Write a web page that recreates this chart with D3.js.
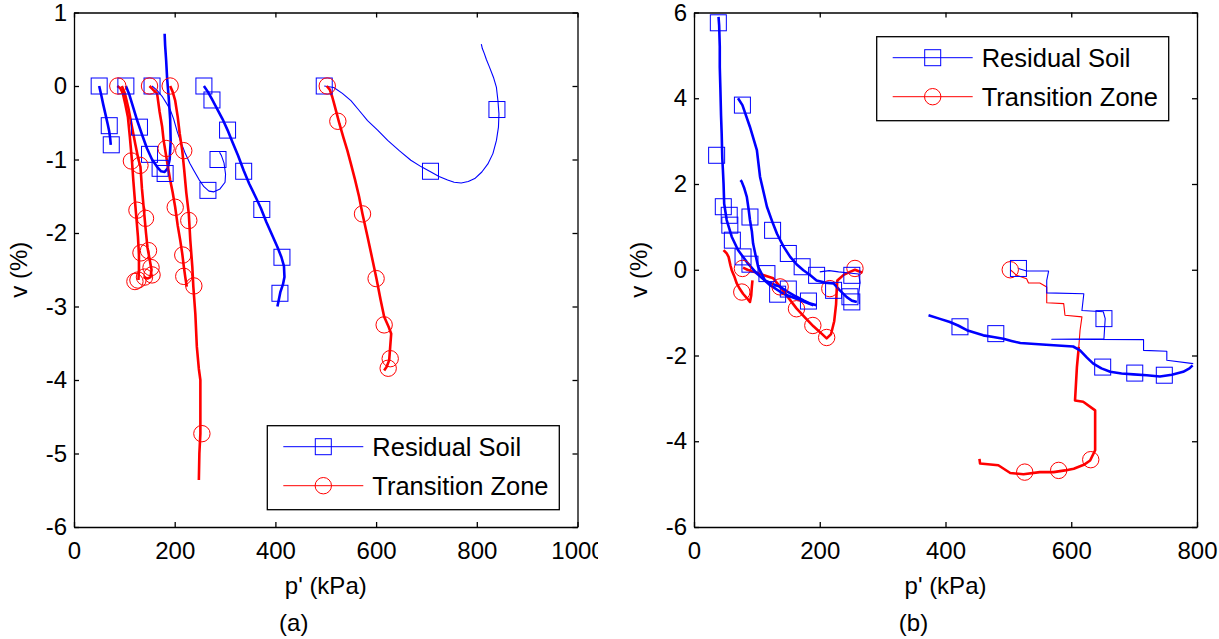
<!DOCTYPE html>
<html>
<head>
<meta charset="utf-8">
<script src="https://cdn.jsdelivr.net/npm/d3@7"></script>
<style>
  body { margin: 0; background: #fff; }
  text { font-family: "Liberation Sans", Arial, sans-serif; fill: #000; }
</style>
</head>
<body>
<svg id="chart" width="1219" height="639"></svg>
<script>
// ---- panel (a) : Residual Soil (blue) ----
const aB1 = [[50,0],[54,-0.12],[58,-0.25],[63,-0.4],[67,-0.52],[70,-0.62],[72,-0.72],[73,-0.8]]
const aB1Marks = [[50,0],[70,-0.54],[74,-0.8]]
const aB2 = [[103,0],[110,-0.12],[118,-0.3],[126,-0.48],[135,-0.66],[145,-0.85],[155,-1.0],[165,-1.1],[173,-1.16],[180,-1.17],[186,-1.12],[190,-1.0],[192,-0.75],[191,-0.45],[188,-0.15],[185,0.1],[183,0.35],[181,0.55],[180,0.71]]
const aB2Marks = [[103,0],[130,-0.56],[150,-0.93],[171,-1.12],[181,-1.19]]
const aB3 = [[155,0],[165,-0.06],[175,-0.14],[185,-0.25],[191,-0.32],[198,-0.45],[205,-0.62],[211,-0.74],[220,-0.9],[230,-1.05],[238,-1.15],[248,-1.27],[258,-1.37],[268,-1.43],[278,-1.44],[290,-1.4],[300,-1.31],[301,-1.2],[298,-1.05],[293,-0.95],[289,-0.9]]
const aB3Marks = [[155,0],[266,-1.42],[286,-1.0]]
const aB4 = [[258,0],[266,-0.08],[274,-0.18],[285,-0.32],[295,-0.45],[305,-0.6],[315,-0.77],[326,-0.95],[337,-1.15],[348,-1.33],[360,-1.5],[371,-1.66],[382,-1.85],[393,-2.02],[404,-2.19],[412,-2.33],[417,-2.45],[418,-2.6],[415,-2.7],[410,-2.8],[407,-2.9],[404,-3.0]]
const aB4Marks = [[258,0],[274,-0.19],[305,-0.6],[337,-1.16],[373,-1.68],[413,-2.33],[409,-2.82]]
const aB5 = [[497,0],[516,-0.02],[533,-0.1],[550,-0.2],[566,-0.33],[583,-0.47],[603,-0.6],[623,-0.74],[646,-0.88],[669,-1.01],[690,-1.1],[709,-1.17],[725,-1.23],[742,-1.28],[755,-1.31],[769,-1.32],[783,-1.3],[796,-1.26],[810,-1.17],[822,-1.06],[832,-0.92],[839,-0.74],[843,-0.56],[844,-0.38],[842,-0.2],[839,-0.02],[833,0.12],[825,0.26],[819,0.36],[815,0.44],[811,0.51],[809,0.57]]
const aB5Marks = [[497,0],[708,-1.16],[840,-0.32]]

// ---- panel (a) : Transition Zone (red) ----
const aR1 = [[86,0],[92,-0.03],[97,-0.1],[102,-0.25],[107,-0.42],[111,-0.7],[115,-1.01],[118,-1.3],[121,-1.56],[124,-1.8],[127,-2.05],[129,-2.3],[129,-2.5],[128,-2.64]]
const aR1Marks = [[87,0],[114,-1.02],[125,-1.69],[133,-2.27],[127,-2.64],[121,-2.66]]
const aR2 = [[95,0],[101,-0.1],[108,-0.3],[115,-0.55],[122,-0.8],[128,-1.0],[132,-1.1],[135,-1.4],[139,-1.7],[143,-2.0],[146,-2.2],[150,-2.35],[154,-2.5],[152,-2.6],[146,-2.62],[138,-2.6]]
const aR2Marks = [[131,-1.08],[142,-1.8],[148,-2.24],[153,-2.47],[155,-2.57],[140,-2.6]]
const aR3 = [[150,0],[157,-0.05],[165,-0.1],[170,-0.35],[175,-0.55],[178,-0.74],[183,-0.95],[187,-1.12],[191,-1.28],[196,-1.45],[201,-1.65],[206,-1.9],[211,-2.1],[215,-2.28],[218,-2.45],[221,-2.6],[224,-2.73]]
const aR3Marks = [[150,0],[183,-0.85],[201,-1.65],[216,-2.3],[218,-2.59]]
const aR4 = [[191,0],[196,-0.08],[201,-0.2],[206,-0.42],[210,-0.65],[215,-0.88],[219,-1.15],[223,-1.45],[228,-1.74],[231,-2.1],[235,-2.46],[237,-2.73],[241,-3.1],[244,-3.55],[248,-3.85],[251,-4.0],[251,-4.4],[251,-4.73],[249,-5.0],[248,-5.36]]
const aR4Marks = [[191,0],[218,-0.88],[228,-1.83],[238,-2.72],[254,-4.73]]
const aR5 = [[502,0],[508,-0.05],[513,-0.15],[517,-0.25],[522,-0.38],[527,-0.51],[535,-0.7],[543,-0.88],[550,-1.06],[558,-1.27],[566,-1.5],[573,-1.74],[583,-2.05],[593,-2.37],[601,-2.63],[609,-2.91],[616,-3.14],[625,-3.28],[630,-3.37],[628,-3.55],[626,-3.73],[621,-3.82],[616,-3.87]]
const aR5Marks = [[503,0],[524,-0.48],[573,-1.74],[600,-2.62],[616,-3.25],[628,-3.71],[624,-3.84]]

// ---- panel (b) : Residual Soil (blue) ----
const bB1 = [[39,5.9],[40,5.7],[41,5.2],[41,4.73],[42,4.2],[43,3.6],[44,3.18],[45,2.6],[46,2.32],[47,2.01],[48,1.54],[52,1.16],[60,0.77],[70,0.46],[84,0.18],[100,-0.09],[121,-0.36],[142,-0.56],[169,-0.71],[190,-0.83]]
const bB1Marks = [[38.7,5.76],[36,2.67],[46.6,1.47],[56,1.27],[57,1.04],[61,0.69],[78,0.3],[89,0.13],[116,-0.09],[133,-0.57],[182,-0.73]]
const bB2 = [[70,4.0],[77,3.84],[89,3.33],[100,2.79],[105,2.17],[116,1.47],[125,1.1],[132,0.84],[142,0.55],[153,0.3],[163,0.13],[174,-0.01],[185,-0.13],[195,-0.25],[208,-0.3],[222,-0.32],[232,-0.48],[243,-0.64],[251,-0.72],[259,-0.75]]
const bB2Marks = [[77,3.84],[125,0.92],[150,0.38],[172,0.07],[195,-0.13],[222,-0.48],[251,-0.75]]
const bB3 = [[74,2.09],[76,2.05],[80,1.9],[84,1.7],[87,1.4],[89,1.16],[92,0.9],[94,0.61],[98,0.33],[102,0.07],[113,-0.25],[125,-0.33],[137,-0.4],[150,-0.52],[163,-0.63],[175,-0.72],[185,-0.79],[195,-0.83]]
const bB3Marks = [[89,1.23],[150,-0.45]]
const bB4 = [[200,-0.05],[215,-0.02],[230,-0.05],[250,-0.08],[262,-0.1],[264,-0.3],[262,-0.55],[263,-0.8]]
const bB4Marks = [[251,-0.13],[248,-0.63]]
const bB5 = [[516,0.03],[529,-0.03],[564,-0.03],[561,-0.25],[561,-0.54],[620,-0.56],[617,-0.95],[651,-0.98],[654,-1.14],[652,-1.61],[569,-1.62],[715,-1.63],[715,-1.88],[752,-1.9],[752,-2.11],[794,-2.19]]
const bB5Marks = [[516,0.03],[652,-1.14]]
const bB6 = [[373,-1.06],[390,-1.14],[407,-1.22],[420,-1.3],[434,-1.41],[447,-1.47],[460,-1.53],[476,-1.57],[492,-1.61],[505,-1.66],[519,-1.71],[560,-1.75],[603,-1.79],[614,-1.88],[625,-2.05],[635,-2.19],[648,-2.3],[662,-2.38],[680,-2.42],[699,-2.44],[720,-2.46],[741,-2.49],[760,-2.45],[778,-2.38],[788,-2.3],[793,-2.23]]
const bB6Marks = [[423,-1.33],[480,-1.49],[650,-2.27],[701,-2.41],[748,-2.46]]

// ---- panel (b) : Transition Zone (red) ----
const bR1 = [[47,0.46],[52,0.38],[55,0.3],[58,0.1],[60,-0.01],[64,-0.15],[68,-0.32],[73,-0.45],[78,-0.56],[84,-0.66],[89,-0.75],[91,-0.6],[92,-0.4],[93,-0.25]]
const bR1Marks = [[77,0.03],[76,-0.52]]
const bR2 = [[78,0.05],[85,0.0],[95,-0.05],[110,-0.12],[126,-0.2],[137,-0.4],[150,-0.65],[163,-0.9],[177,-1.12],[190,-1.32],[200,-1.45],[211,-1.6],[218,-1.5],[223,-1.2],[226,-0.8],[227,-0.45],[228,-0.25],[238,-0.12],[248,-0.05],[256,0],[268,-0.07]]
const bR2Marks = [[137,-0.4],[163,-0.91],[189,-1.3],[211,-1.58],[216,-0.44],[256,0.03]]
const bR3a = [[503,0],[508,-0.06],[513,-0.13],[529,-0.21],[532,-0.31],[550,-0.31],[561,-0.4],[561,-0.77],[588,-0.79],[590,-1.06],[617,-1.1],[614,-1.41],[612,-1.8]]
const bR3b = [[612,-1.8],[609,-2.27],[606,-3.05],[619,-3.08],[638,-3.28],[638,-3.8],[638,-4.21],[630,-4.45],[620,-4.55],[604,-4.64],[590,-4.68],[572,-4.72],[550,-4.72],[524,-4.77],[503,-4.74],[484,-4.56],[455,-4.52],[454,-4.41]]
const bR3Marks = [[503,0],[631,-4.43],[580,-4.68],[526,-4.72]]

// ---- axes / labels ----
const aXTicks = [0, 200, 400, 600, 800, 1000]
const aYTicks = [-6, -5, -4, -3, -2, -1, 0, 1]
const bXTicks = [0, 200, 400, 600, 800]
const bYTicks = [-6, -4, -2, 0, 2, 4, 6]
const seriesNames = ['Residual Soil', 'Transition Zone']

const thinCurves = ['aB3', 'aB5', 'bB4', 'bB5', 'bR3a']
const blue = '#0000ff'
const red = '#ff0000'

const svg = d3.select('#chart')
svg.append('rect').attr('width', 1219).attr('height', 639).attr('fill', '#fff')

svg.append('defs').append('clipPath').attr('id', 'clipA')
  .append('rect').attr('x', 0).attr('y', 0).attr('width', 598).attr('height', 639)

function drawPanel(cfg) {
  const g = svg.append('g')
  if (cfg.clip) g.attr('clip-path', 'url(#clipA)')

  const x = d3.scaleLinear().domain(cfg.xDomain).range([cfg.left, cfg.right])
  const y = d3.scaleLinear().domain(cfg.yDomain).range([cfg.bottom, cfg.top])

  const line = d3.line().x(d => x(d[0])).y(d => y(d[1]))

  // curves
  cfg.curves.forEach(c => {
    const col = c.kind == 'rs' ? blue : red
    g.append('path')
      .attr('d', line(c.line))
      .attr('fill', 'none')
      .attr('stroke', col)
      .attr('stroke-width', thinCurves.includes(c.key) ? 1.1 : 2.6)
      .attr('stroke-linejoin', 'round')
  })
  // markers on top
  cfg.curves.forEach(c => {
    if (!c.marks) return
    const col = c.kind == 'rs' ? blue : red
    if (c.kind == 'rs') {
      g.append('g').selectAll('rect')
        .data(c.marks)
        .enter()
        .append('rect')
        .attr('x', d => x(d[0]) - 8)
        .attr('y', d => y(d[1]) - 8)
        .attr('width', 16)
        .attr('height', 16)
        .attr('fill', 'none')
        .attr('stroke', col)
        .attr('stroke-width', 1)
    } else {
      g.append('g').selectAll('circle')
        .data(c.marks)
        .enter()
        .append('circle')
        .attr('cx', d => x(d[0]))
        .attr('cy', d => y(d[1]))
        .attr('r', 8.2)
        .attr('fill', 'none')
        .attr('stroke', col)
        .attr('stroke-width', 1)
    }
  })

  // box with inward ticks, plain hyphen for negatives like the original
  const fmt = d => String(d)
  const xb = g.append('g').attr('transform', `translate(0,${cfg.bottom})`)
    .call(d3.axisBottom(x).tickValues(cfg.xTicks).tickFormat(fmt).tickSizeInner(-5).tickSizeOuter(0).tickPadding(15))
  const xt = g.append('g').attr('transform', `translate(0,${cfg.top})`)
    .call(d3.axisTop(x).tickValues(cfg.xTicks).tickFormat('').tickSizeInner(-5).tickSizeOuter(0))
  const yl = g.append('g').attr('transform', `translate(${cfg.left},0)`)
    .call(d3.axisLeft(y).tickValues(cfg.yTicks).tickFormat(fmt).tickSizeInner(-5).tickSizeOuter(0).tickPadding(7))
  const yr = g.append('g').attr('transform', `translate(${cfg.right},0)`)
    .call(d3.axisRight(y).tickValues(cfg.yTicks).tickFormat('').tickSizeInner(-5).tickSizeOuter(0))

  ;[xb, xt, yl, yr].forEach(a => {
    a.select('.domain').attr('stroke', '#000').attr('stroke-width', 1.3)
    a.selectAll('.tick line').attr('stroke', '#000').attr('stroke-width', 1.3)
    a.selectAll('text')
      .attr('font-family', '"Liberation Sans", Arial, sans-serif')
      .attr('font-size', 24)
      .attr('fill', '#000')
  })

  // labels
  const cx = (cfg.left + cfg.right) / 2
  g.append('text')
    .attr('x', cx).attr('y', 594)
    .attr('text-anchor', 'middle')
    .attr('font-size', 24)
    .text("p' (kPa)")
  g.append('text')
    .attr('x', cx - 32).attr('y', 631)
    .attr('text-anchor', 'middle')
    .attr('font-size', 24)
    .text(cfg.tag)
  g.append('text')
    .attr('transform', `translate(${cfg.left - 47},${(cfg.top + cfg.bottom) / 2}) rotate(-90)`)
    .attr('text-anchor', 'middle')
    .attr('font-size', 24)
    .text('v (%)')

  // legend
  const lg = g.append('g').attr('transform', `translate(${cfg.legX},${cfg.legY})`)
  lg.append('rect')
    .attr('width', 292).attr('height', 84)
    .attr('fill', '#fff').attr('stroke', '#000').attr('stroke-width', 1.3)
  seriesNames.forEach((name, i) => {
    const ry = 21 + i * 39
    const col = i == 0 ? blue : red
    lg.append('line')
      .attr('x1', 16).attr('x2', 96).attr('y1', ry).attr('y2', ry)
      .attr('stroke', col).attr('stroke-width', 1)
    if (i == 0) {
      lg.append('rect').attr('x', 48).attr('y', ry - 8).attr('width', 16).attr('height', 16)
        .attr('fill', 'none').attr('stroke', col)
    } else {
      lg.append('circle').attr('cx', 56).attr('cy', ry).attr('r', 8.2)
        .attr('fill', 'none').attr('stroke', col)
    }
    lg.append('text')
      .attr('x', 105).attr('y', ry)
      .attr('dy', '0.36em')
      .attr('font-size', 25.5)
      .text(name)
  })
}

drawPanel({
  clip: true, tag: '(a)',
  left: 74, right: 577.5, top: 12.5, bottom: 527,
  xDomain: [0, 1000], yDomain: [-6, 1],
  xTicks: aXTicks, yTicks: aYTicks,
  legX: 267.3, legY: 425.7,
  curves: [
    {key: 'aB1', kind: 'rs', line: aB1, marks: aB1Marks},
    {key: 'aB2', kind: 'rs', line: aB2, marks: aB2Marks},
    {key: 'aB3', kind: 'rs', line: aB3, marks: aB3Marks},
    {key: 'aB4', kind: 'rs', line: aB4, marks: aB4Marks},
    {key: 'aB5', kind: 'rs', line: aB5, marks: aB5Marks},
    {key: 'aR1', kind: 'tz', line: aR1, marks: aR1Marks},
    {key: 'aR2', kind: 'tz', line: aR2, marks: aR2Marks},
    {key: 'aR3', kind: 'tz', line: aR3, marks: aR3Marks},
    {key: 'aR4', kind: 'tz', line: aR4, marks: aR4Marks},
    {key: 'aR5', kind: 'tz', line: aR5, marks: aR5Marks}
  ]
})

drawPanel({
  clip: false, tag: '(b)',
  left: 694, right: 1197, top: 12.5, bottom: 527,
  xDomain: [0, 800], yDomain: [-6, 6],
  xTicks: bXTicks, yTicks: bYTicks,
  legX: 876.7, legY: 36.7,
  curves: [
    {key: 'bR1', kind: 'tz', line: bR1, marks: bR1Marks},
    {key: 'bR2', kind: 'tz', line: bR2, marks: bR2Marks},
    {key: 'bR3a', kind: 'tz', line: bR3a, marks: bR3Marks},
    {key: 'bR3b', kind: 'tz', line: bR3b},
    {key: 'bB1', kind: 'rs', line: bB1, marks: bB1Marks},
    {key: 'bB2', kind: 'rs', line: bB2, marks: bB2Marks},
    {key: 'bB3', kind: 'rs', line: bB3, marks: bB3Marks},
    {key: 'bB4', kind: 'rs', line: bB4, marks: bB4Marks},
    {key: 'bB5', kind: 'rs', line: bB5, marks: bB5Marks},
    {key: 'bB6', kind: 'rs', line: bB6, marks: bB6Marks}
  ]
})
</script>
</body>
</html>
